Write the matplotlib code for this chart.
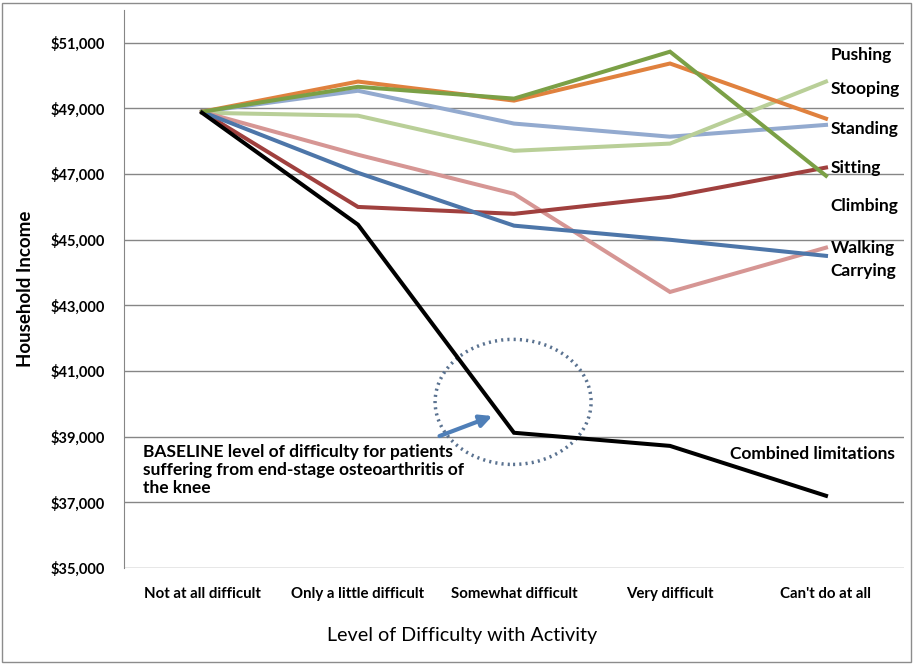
import numpy as np
import matplotlib.pyplot as plt
from matplotlib.patches import Ellipse, Rectangle

plt.rcParams['font.family'] = ['Lato', 'DejaVu Sans']

levels = ["Not at all difficult", "Only a little difficult", "Somewhat difficult",
          "Very difficult", "Can't do at all"]

# household income by level of difficulty
pushing = [48900, 49820, 49240, 50370, 48690]
climbing = [48900, 49660, 49300, 50730, 46950]
standing = [48900, 49540, 48540, 48140, 48500]
stooping = [48870, 48780, 47710, 47930, 49820]
sitting = [48900, 46000, 45790, 46310, 47200]
carrying = [48900, 47040, 45430, 45000, 44510]
walking = [48900, 47590, 46400, 43410, 44760]
combined = [48870, 45460, 39120, 38720, 37200]

series = [
    (standing, '#93AACF'),
    (stooping, '#B9CF98'),
    (walking, '#D69694'),
    (sitting, '#A0403E'),
    (carrying, '#4D76A9'),
    (pushing, '#E0813E'),
    (climbing, '#7BA046'),
    (combined, '#000000'),
]

# right hand labels (text, y position)
right_labels = [("Pushing", 50640), ("Stooping", 49600), ("Standing", 48380),
                ("Sitting", 47200), ("Climbing", 46040), ("Walking", 44760),
                ("Carrying", 44050)]

yticks = np.arange(35000, 51001, 2000)

fig = plt.figure(figsize=(9.24, 6.64), dpi=100)
ax = fig.add_axes([124/924, 1-568/664, 780/924, 558/664])

x = np.arange(len(levels))
for vals, col in series:
    ax.plot(x, vals, color=col, lw=2.9, solid_joinstyle='miter')

ax.set_xlim(-0.5, 4.5)
ax.set_ylim(35000, 52000)
ax.set_yticks(yticks)
ax.set_yticklabels(['${:,}'.format(v) for v in yticks], fontsize=10.5, fontweight='bold')
ax.set_xticks(x)
ax.set_xticklabels(levels, fontsize=10.8, fontweight='bold')
ax.tick_params(length=0)
ax.tick_params(axis='y', pad=14)
ax.tick_params(axis='x', pad=14)
ax.grid(axis='y', color='#868686', lw=1)
ax.set_axisbelow(True)
for s in ['top', 'right', 'bottom']:
    ax.spines[s].set_visible(False)
ax.spines['left'].set_color('#868686')

fig.text(462/924, 1-636/664, "Level of Difficulty with Activity", fontsize=14.2,
         ha='center', va='center')
ax.set_ylabel("Household Income", fontsize=13.5, fontweight='bold', labelpad=12)

for name, yv in right_labels:
    ax.text(4.03, yv, name, fontsize=12.5, fontweight='bold', va='center', ha='left')
ax.text(3.385, 38480, "Combined limitations", fontsize=12.5, fontweight='bold',
        va='center', ha='left')

ax.text(-0.378, 37990,
        "BASELINE level of difficulty for patients\nsuffering from end-stage osteoarthritis of\nthe knee",
        fontsize=12.5, fontweight='bold', va='center', ha='left', linespacing=1.15)

ax.add_patch(Ellipse((1.994, 40060), 1.0, 3810, fill=False, edgecolor='#5A7290',
                     lw=2.5, linestyle=(0, (0.6, 1.2))))
ax.annotate('', xy=(1.878, 39660), xytext=(1.506, 38990),
            arrowprops=dict(arrowstyle='-|>', color='#4F7FB8', lw=3, mutation_scale=18))

fig.patches.append(Rectangle((2/924, 2/664), 909/924, 659/664, transform=fig.transFigure,
                             fill=False, edgecolor='#8C8C8C', lw=1))

fig.savefig('out.png', dpi=100)
